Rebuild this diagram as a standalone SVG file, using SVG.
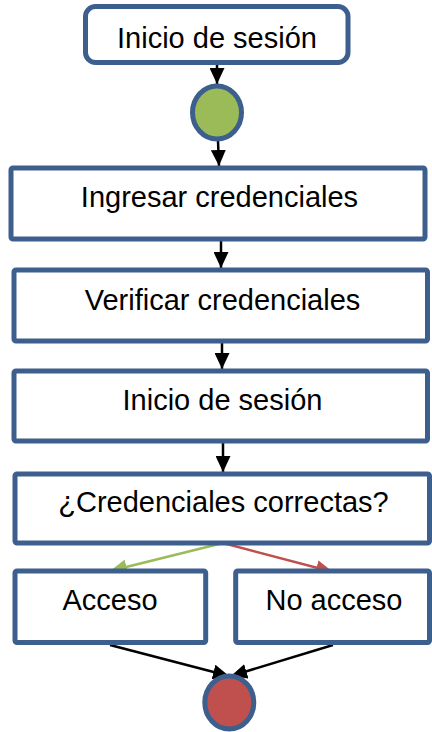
<svg xmlns="http://www.w3.org/2000/svg" width="432" height="732" viewBox="0 0 432 732">
<defs>
<style>
.box{fill:#ffffff;stroke:#3C5F8D;stroke-width:5}
.node-text{font-family:"Liberation Sans",Arial,sans-serif;font-size:29px;fill:#000000;text-anchor:middle}
.conn{fill:none;stroke-width:2.5}
.blk{stroke:#000000}
.grn{stroke:#9BBB59}
.red{stroke:#C0504D}
</style>
<marker id="ah-black" viewBox="0 0 16 15" refX="16" refY="7.5" markerWidth="16" markerHeight="15" markerUnits="userSpaceOnUse" orient="auto">
<path d="M0,0 L16,7.5 L0,15 Z" fill="#000000"/>
</marker>
<marker id="ah-green" viewBox="0 0 17 15" refX="17" refY="7.5" markerWidth="17" markerHeight="15" markerUnits="userSpaceOnUse" orient="auto">
<path d="M0,0 L17,7.5 L0,15 Z" fill="#9BBB59"/>
</marker>
<marker id="ah-red" viewBox="0 0 17 15" refX="17" refY="7.5" markerWidth="17" markerHeight="15" markerUnits="userSpaceOnUse" orient="auto">
<path d="M0,0 L17,7.5 L0,15 Z" fill="#C0504D"/>
</marker>
</defs>
<rect width="432" height="732" fill="#ffffff"/>
<g id="connectors">
<line class="conn blk" x1="217" y1="65" x2="217" y2="84" marker-end="url(#ah-black)"/>
<line class="conn blk" x1="218" y1="141" x2="219" y2="166" marker-end="url(#ah-black)"/>
<line class="conn blk" x1="221" y1="241" x2="221" y2="268" marker-end="url(#ah-black)"/>
<line class="conn blk" x1="222" y1="343" x2="222" y2="369" marker-end="url(#ah-black)"/>
<line class="conn blk" x1="223" y1="443" x2="223" y2="472" marker-end="url(#ah-black)"/>
<line class="conn grn" x1="223" y1="543" x2="110" y2="571" marker-end="url(#ah-green)"/>
<line class="conn red" x1="223" y1="543" x2="333" y2="572" marker-end="url(#ah-red)"/>
<line class="conn blk" x1="110" y1="645" x2="229" y2="676" marker-end="url(#ah-black)"/>
<line class="conn blk" x1="333" y1="645" x2="231" y2="676" marker-end="url(#ah-black)"/>
</g>
<g id="inicio-top">
<rect class="box" x="85.5" y="6.5" width="262.5" height="56" rx="10" ry="10"/>
<text class="node-text" x="217" y="48">Inicio de sesión</text>
</g>
<g id="start">
<ellipse cx="217" cy="112.5" rx="24.5" ry="26.5" fill="#9BBB59" stroke="#3C5F8D" stroke-width="5"/>
</g>
<g id="ingresar">
<rect class="box" x="11" y="168" width="414" height="71" rx="2"/>
<text class="node-text" x="219.5" y="207">Ingresar credenciales</text>
</g>
<g id="verificar">
<rect class="box" x="14" y="270" width="413.5" height="71" rx="2"/>
<text class="node-text" x="222.5" y="310">Verificar credenciales</text>
</g>
<g id="inicio-sesion">
<rect class="box" x="14" y="371" width="413.5" height="70" rx="2"/>
<text class="node-text" x="222.5" y="410">Inicio de sesión</text>
</g>
<g id="decision">
<rect class="box" x="15" y="474" width="414.5" height="69" rx="2"/>
<text class="node-text" x="223.5" y="511.5">¿Credenciales correctas?</text>
</g>
<g id="acceso">
<rect class="box" x="15" y="571" width="190.7" height="71.5" rx="2"/>
<text class="node-text" x="110" y="610">Acceso</text>
</g>
<g id="no-acceso">
<rect class="box" x="235.7" y="571" width="193.8" height="71.5" rx="2"/>
<text class="node-text" x="334" y="610">No acceso</text>
</g>
<g id="end">
<ellipse cx="229.3" cy="702.5" rx="24.5" ry="26.5" fill="#C0504D" stroke="#3C5F8D" stroke-width="5"/>
</g>
</svg>
